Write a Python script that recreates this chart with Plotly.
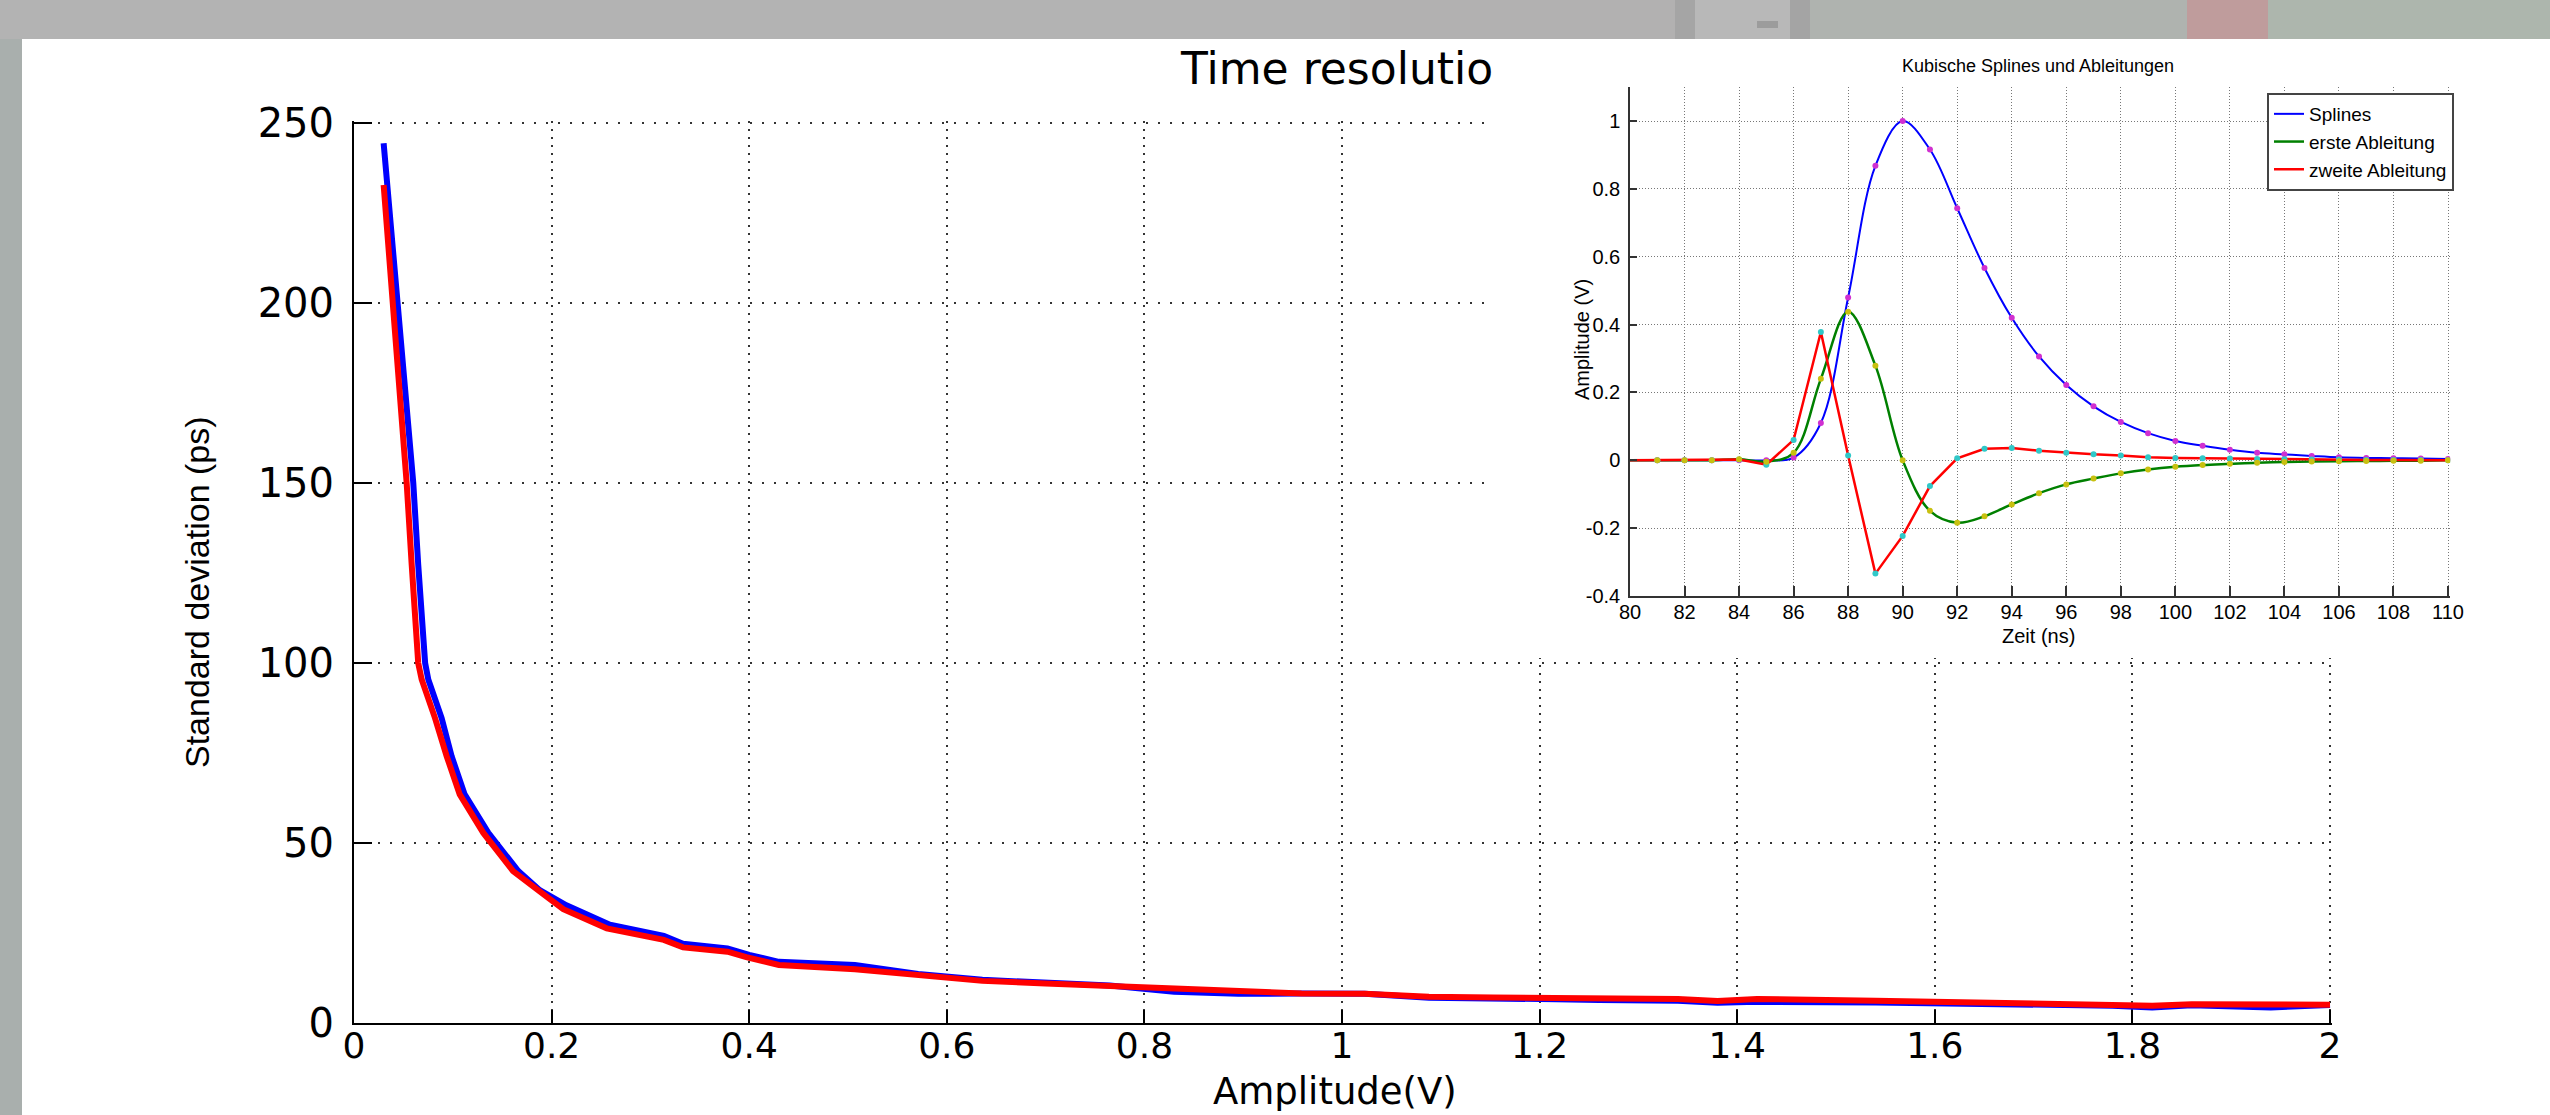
import plotly.graph_objects as go

W, H = 2550, 1115

# ---------------- main chart data ----------------
amp_blue = [0.030, 0.0344, 0.0405, 0.0466, 0.052, 0.0574, 0.060, 0.065, 0.072, 0.0752,
            0.082, 0.0887, 0.0988, 0.112, 0.136, 0.1663, 0.188, 0.215, 0.259, 0.3136,
            0.333, 0.378, 0.40, 0.43, 0.507, 0.571, 0.636, 0.70, 0.765, 0.83,
            0.895, 0.959, 1.023, 1.088, 1.153, 1.217, 1.26, 1.34, 1.38, 1.42,
            1.54, 1.70, 1.78, 1.82, 1.86, 1.94, 2.0]
sd_blue = [244.4, 230.5, 212.0, 193.9, 175.8, 157.3, 150.0, 127.3, 100.0, 95.4,
           90.1, 84.7, 74.1, 63.5, 52.8, 42.2, 36.9, 32.7, 27.3, 24.2,
           22.0, 20.7, 18.9, 17.0, 16.1, 13.6, 12.0, 11.2, 10.4, 8.7,
           8.1, 8.2, 8.1, 7.0, 7.0, 6.6, 6.4, 6.2, 5.6, 5.9,
           5.7, 5.2, 4.8, 4.3, 4.9, 4.3, 5.0]
amp_red = [0.030, 0.0337, 0.0392, 0.0449, 0.050, 0.0533, 0.0584, 0.065, 0.0685, 0.0752,
           0.082, 0.0938, 0.107, 0.1309, 0.161, 0.1916, 0.2118, 0.2558, 0.3136, 0.333,
           0.378, 0.397, 0.43, 0.507, 0.571, 0.636, 0.70, 0.765, 0.83, 0.895,
           0.959, 1.023, 1.088, 1.153, 1.217, 1.26, 1.34, 1.38, 1.42, 1.54,
           1.70, 1.78, 1.82, 1.86, 1.94, 2.0]
sd_red = [232.8, 219.4, 200.8, 182.3, 163.8, 150.0, 127.3, 100.0, 95.4, 90.1,
          84.7, 74.1, 63.5, 52.8, 42.2, 35.8, 31.6, 26.3, 23.1, 21.0,
          19.8, 18.3, 16.1, 14.9, 13.3, 11.7, 11.0, 10.3, 9.3, 8.7,
          8.2, 8.1, 7.3, 7.1, 7.1, 6.9, 6.7, 6.1, 6.7, 6.2,
          5.6, 5.1, 4.8, 5.2, 5.2, 5.1]
main_xticks = [0, 0.2, 0.4, 0.6, 0.8, 1.0, 1.2, 1.4, 1.6, 1.8, 2.0]
main_xticktext = ["0", "0.2", "0.4", "0.6", "0.8", "1", "1.2", "1.4", "1.6", "1.8", "2"]
main_yticks = [0, 50, 100, 150, 200, 250]

# ---------------- inset data ----------------
t_ns = list(range(80, 111))
splines = [0, 0, 0, 0, 0, 0, 0.008, 0.11, 0.48, 0.868, 1.0, 0.916, 0.743, 0.567, 0.42,
           0.306, 0.222, 0.159, 0.113, 0.08, 0.057, 0.043, 0.031, 0.022, 0.0175, 0.013,
           0.009, 0.007, 0.006, 0.005, 0.0035]
erste = [0, 0, 0, 0, 0.003, -0.004, 0.022, 0.24, 0.438, 0.279, 0.0, -0.149, -0.184,
         -0.165, -0.13, -0.097, -0.071, -0.054, -0.0385, -0.027, -0.019, -0.014,
         -0.0105, -0.007, -0.005, -0.0035, -0.0025, -0.002, -0.0015, -0.001, 0.0]
zweite = [0, 0, 0, 0, 0.002, -0.013, 0.06, 0.378, 0.014, -0.334, -0.223, -0.076, 0.006,
          0.034, 0.036, 0.028, 0.022, 0.0175, 0.014, 0.009, 0.007, 0.006, 0.005, 0.0035,
          0.003, 0.002, 0.002, 0.001, 0.001, 0.0005, 0.0]
inset_xticks = list(range(80, 111, 2))
inset_yticks = [-0.4, -0.2, 0, 0.2, 0.4, 0.6, 0.8, 1.0]
inset_yticktext = ["-0.4", "-0.2", "0", "0.2", "0.4", "0.6", "0.8", "1"]


def px_x(p):
    return p / W


def px_y(p):
    return 1 - p / H


ARIAL = "Liberation Sans, Arial, sans-serif"
WIDE = "DejaVu Sans, Verdana, sans-serif"

fig = go.Figure()

# main curves
fig.add_trace(go.Scatter(x=amp_blue, y=sd_blue, mode="lines", line=dict(color="#0000ff", width=6),
                         showlegend=False, xaxis="x", yaxis="y"))
fig.add_trace(go.Scatter(x=amp_red, y=sd_red, mode="lines", line=dict(color="#ff0000", width=6),
                         showlegend=False, xaxis="x", yaxis="y"))

# empty subplot holding the white backdrop of the inset
fig.add_trace(go.Scatter(x=[], y=[], xaxis="x2", yaxis="y2", showlegend=False, hoverinfo="skip"))

# inset lines
fig.add_trace(go.Scatter(x=t_ns, y=splines, mode="lines", name="Splines",
                         line=dict(color="#0000ff", width=2, shape="spline"), xaxis="x3", yaxis="y3"))
fig.add_trace(go.Scatter(x=t_ns, y=erste, mode="lines", name="erste Ableitung",
                         line=dict(color="#008000", width=2.5, shape="spline"), xaxis="x3", yaxis="y3"))
fig.add_trace(go.Scatter(x=t_ns, y=zweite, mode="lines", name="zweite Ableitung",
                         line=dict(color="#ff0000", width=2.5), xaxis="x3", yaxis="y3"))
# inset sample dots
fig.add_trace(go.Scatter(x=t_ns[1:], y=splines[1:], mode="markers", showlegend=False,
                         marker=dict(color="#d030d0", size=6), xaxis="x3", yaxis="y3"))
fig.add_trace(go.Scatter(x=t_ns[1:], y=zweite[1:], mode="markers", showlegend=False,
                         marker=dict(color="#30c8c8", size=6), xaxis="x3", yaxis="y3"))
fig.add_trace(go.Scatter(x=t_ns[1:], y=erste[1:], mode="markers", showlegend=False,
                         marker=dict(color="#c8c010", size=6), xaxis="x3", yaxis="y3"))

shapes = [
    # grey screen frame
    dict(type="rect", xref="paper", yref="paper", x0=0, x1=1, y0=px_y(39), y1=1,
         fillcolor="#b3b3b3", line=dict(width=0), layer="below"),
    dict(type="rect", xref="paper", yref="paper", x0=px_x(1350), x1=px_x(1675), y0=px_y(39), y1=1,
         fillcolor="#b2b1b1", line=dict(width=0), layer="below"),
    dict(type="rect", xref="paper", yref="paper", x0=px_x(1675), x1=px_x(1695), y0=px_y(39), y1=1,
         fillcolor="#a5a5a5", line=dict(width=0), layer="below"),
    dict(type="rect", xref="paper", yref="paper", x0=px_x(1695), x1=px_x(1790), y0=px_y(39), y1=1,
         fillcolor="#b8b8b8", line=dict(width=0), layer="below"),
    dict(type="rect", xref="paper", yref="paper", x0=px_x(1757), x1=px_x(1778), y0=px_y(28), y1=px_y(21),
         fillcolor="#9c9c9c", line=dict(width=0), layer="below"),
    dict(type="rect", xref="paper", yref="paper", x0=px_x(1790), x1=px_x(1810), y0=px_y(39), y1=1,
         fillcolor="#a4a4a4", line=dict(width=0), layer="below"),
    dict(type="rect", xref="paper", yref="paper", x0=px_x(1810), x1=px_x(2187), y0=px_y(39), y1=1,
         fillcolor="#afb3af", line=dict(width=0), layer="below"),
    dict(type="rect", xref="paper", yref="paper", x0=px_x(2187), x1=px_x(2268), y0=px_y(39), y1=1,
         fillcolor="#bf9c9c", line=dict(width=0), layer="below"),
    dict(type="rect", xref="paper", yref="paper", x0=px_x(2268), x1=1, y0=px_y(39), y1=1,
         fillcolor="#adb6ad", line=dict(width=0), layer="below"),
    dict(type="rect", xref="paper", yref="paper", x0=0, x1=px_x(22), y0=0, y1=px_y(39),
         fillcolor="#a9afad", line=dict(width=0), layer="below"),
    # opaque white backdrop of the pasted inset (hides main grid below it)
    dict(type="rect", xref="x2", yref="y2", x0=0, x1=1, y0=0, y1=1,
         fillcolor="white", line=dict(width=0), layer="below"),
]

annotations = [
    dict(text="Time resolution", xref="paper", yref="paper", x=px_x(1350), y=px_y(69),
         xanchor="center", yanchor="middle", showarrow=False,
         font=dict(family=WIDE, size=44, color="black")),
    dict(text="Kubische Splines und Ableitungen", xref="paper", yref="paper",
         x=px_x(2038), y=px_y(66), xanchor="center", yanchor="middle", showarrow=False,
         width=1090, height=40, borderpad=0, bgcolor="white",
         font=dict(family=ARIAL, size=18, color="black")),
    dict(text="Amplitude(V)", xref="paper", yref="paper", x=px_x(1335), y=px_y(1091),
         xanchor="center", yanchor="middle", showarrow=False, height=40, borderpad=0,
         font=dict(family=WIDE, size=37, color="black")),
    dict(text="Standard deviation (ps)", xref="paper", yref="paper", x=px_x(197), y=px_y(592),
         xanchor="center", yanchor="middle", showarrow=False, textangle=-90,
         font=dict(family=ARIAL, size=34, color="black")),
    dict(text="Zeit (ns)", xref="paper", yref="paper", x=px_x(2038), y=px_y(636),
         xanchor="center", yanchor="middle", showarrow=False,
         font=dict(family=ARIAL, size=20, color="black")),
    dict(text="Amplitude (V)", xref="paper", yref="paper", x=px_x(1582), y=px_y(340),
         xanchor="center", yanchor="middle", showarrow=False, textangle=-90,
         font=dict(family=ARIAL, size=20, color="black")),
]

fig.update_layout(
    width=W, height=H, margin=dict(l=0, r=0, t=0, b=0, pad=0, autoexpand=False),
    paper_bgcolor="white", plot_bgcolor="white",
    xaxis=dict(domain=[px_x(354), px_x(2332)], range=[0, 2.002], anchor="y", automargin=False,
               tickmode="array", tickvals=main_xticks, ticktext=main_xticktext,
               ticks="inside", ticklen=13, tickwidth=2, tickcolor="black",
               showline=True, linecolor="black", linewidth=2, mirror=False,
               showgrid=True, gridcolor="#333333", gridwidth=2, griddash="2px,6px",
               zeroline=False, ticklabelstandoff=-10,
               tickfont=dict(family=WIDE, size=36, color="black")),
    yaxis=dict(domain=[px_y(1023), px_y(121.2)], range=[0, 250.5], anchor="x", automargin=False,
               tickmode="array", tickvals=main_yticks,
               ticks="inside", ticklen=18, tickwidth=2, tickcolor="black",
               showline=True, linecolor="black", linewidth=2, mirror=False,
               showgrid=True, gridcolor="#333333", gridwidth=2, griddash="2px,10px",
               zeroline=False, ticklabelstandoff=10,
               tickfont=dict(family=WIDE, size=40, color="black")),
    xaxis2=dict(domain=[px_x(1493), 1.0], range=[0, 1], visible=False, anchor="y2",
                fixedrange=True, automargin=False),
    yaxis2=dict(domain=[px_y(658), px_y(39)], range=[0, 1], visible=False, anchor="x2",
                fixedrange=True, automargin=False),
    xaxis3=dict(domain=[px_x(1630), px_x(2450.2)], range=[80, 110.08], anchor="y3", automargin=False,
                tickmode="array", tickvals=inset_xticks,
                ticks="inside", ticklen=10, tickwidth=1.5, tickcolor="#333333",
                showline=True, linecolor="#333333", linewidth=1.5,
                showgrid=True, gridcolor="#777777", gridwidth=1, griddash="1px,2px",
                zeroline=False, ticklabelstandoff=-3,
                tickfont=dict(family=ARIAL, size=20, color="black")),
    yaxis3=dict(domain=[px_y(596), px_y(87.1)], range=[-0.4, 1.1], anchor="x3", automargin=False,
                tickmode="array", tickvals=inset_yticks, ticktext=inset_yticktext,
                ticks="inside", ticklen=7, tickwidth=1.5, tickcolor="#333333",
                showline=True, linecolor="#333333", linewidth=1.5,
                showgrid=True, gridcolor="#777777", gridwidth=1, griddash="1px,2px",
                zeroline=False, ticklabelstandoff=4,
                tickfont=dict(family=ARIAL, size=20, color="black")),
    legend=dict(x=px_x(2267), y=px_y(93), xanchor="left", yanchor="top",
                bgcolor="white", bordercolor="#444444", borderwidth=2,
                font=dict(family=ARIAL, size=19, color="black"), itemwidth=30,
                tracegroupgap=0),
    shapes=shapes,
    annotations=annotations,
    showlegend=True,
)

fig.write_html("out.html", config={"displayModeBar": False},
               post_script="document.body.style.margin='0px';")
